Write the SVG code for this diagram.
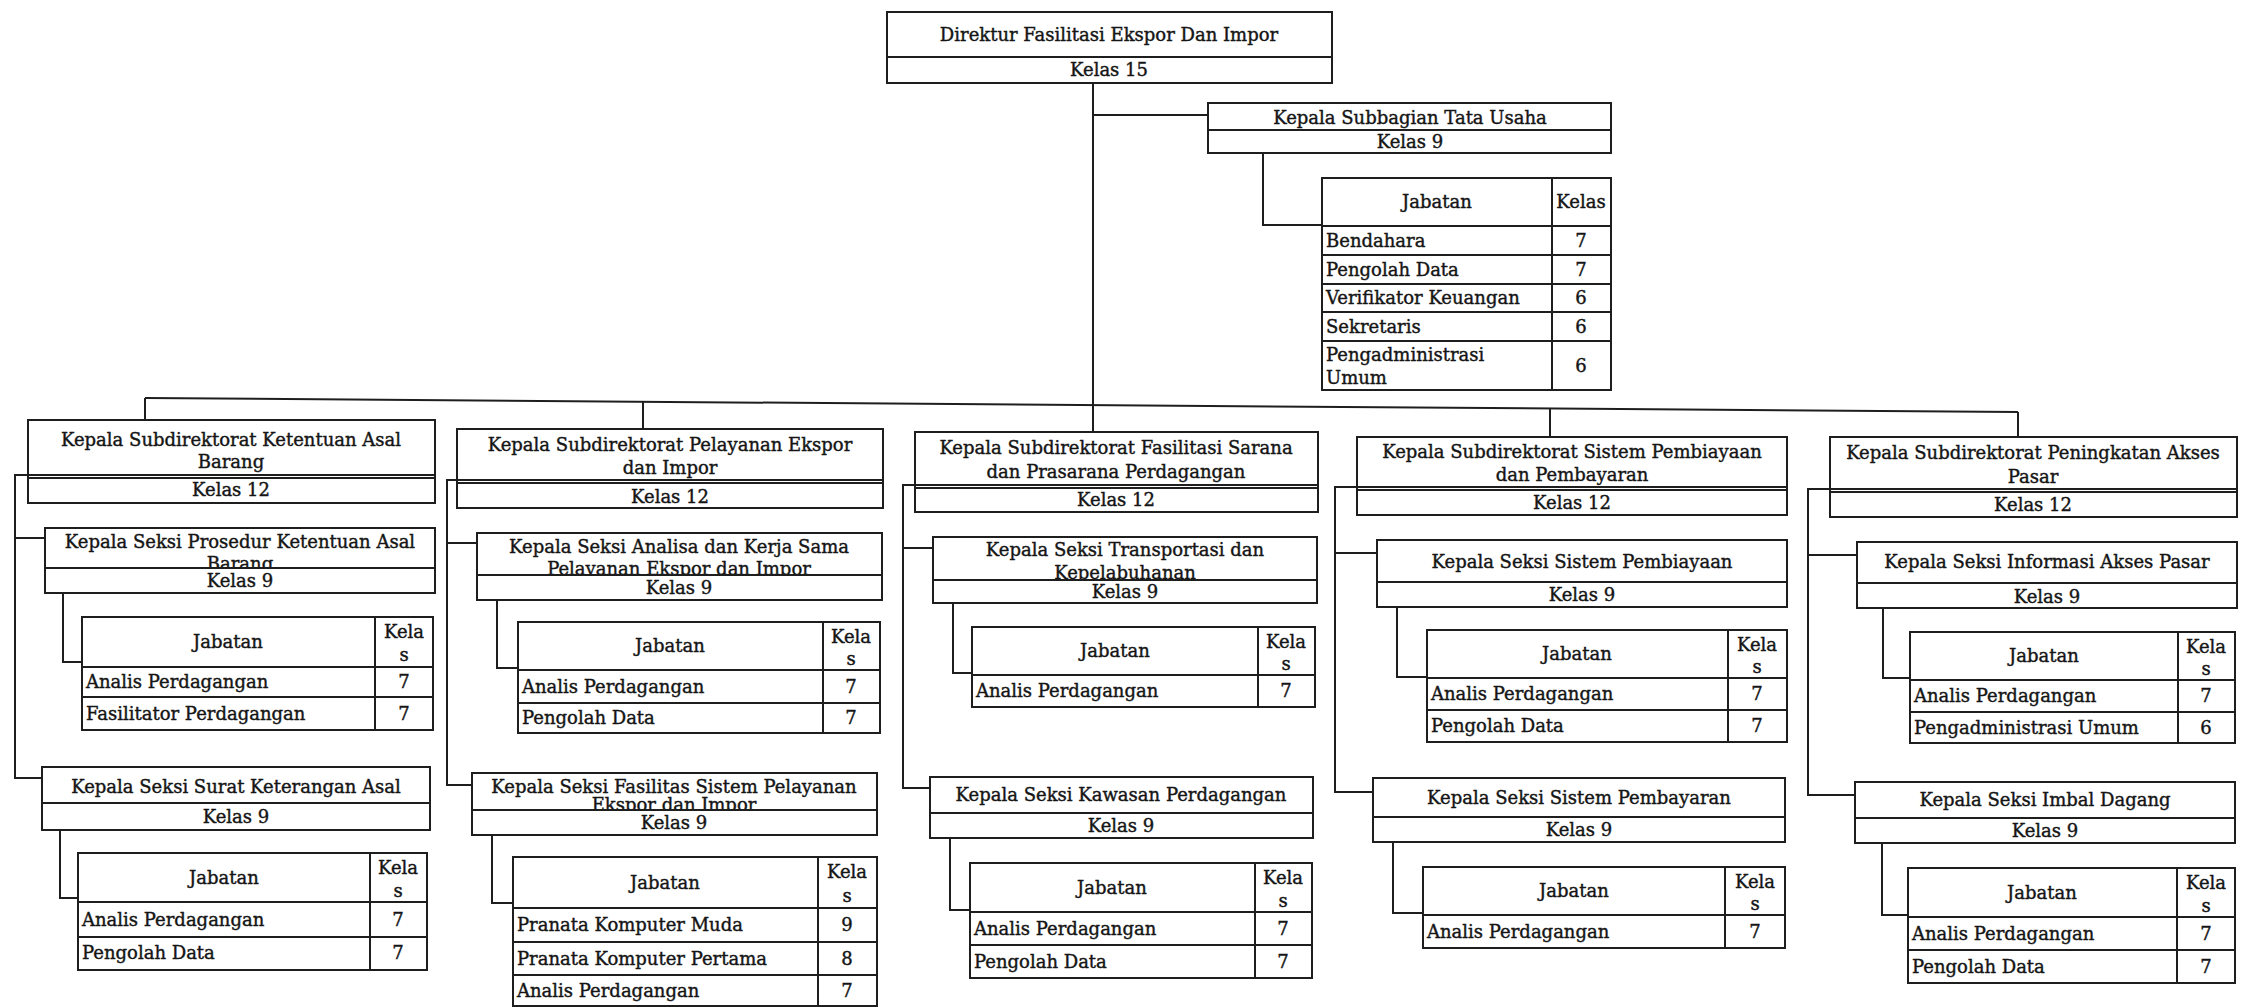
<svg xmlns="http://www.w3.org/2000/svg" width="2253" height="1007" viewBox="0 0 2253 1007">
<style>
.box{fill:#fff;stroke:#1e1e1e;stroke-width:2}
.ln{fill:none;stroke:#1e1e1e;stroke-width:2}
text{font-family:"DejaVu Serif","Liberation Serif",serif;font-size:18px;fill:#151515;stroke:#151515;stroke-width:0.4}
.c{text-anchor:middle}
</style>
<rect x="0" y="0" width="2253" height="1007" fill="#fff"/>

<g id="n-direktur">
<rect class="box" x="887" y="12" width="445" height="71"/>
<line class="ln" x1="887" y1="57" x2="1332" y2="57"/>
<text class="c" x="1109" y="41">Direktur Fasilitasi Ekspor Dan Impor</text>
<text class="c" x="1109" y="76">Kelas 15</text>
</g>

<g id="n-subbag">
<rect class="box" x="1208" y="103" width="403" height="50"/>
<line class="ln" x1="1208" y1="130" x2="1611" y2="130"/>
<text class="c" x="1410" y="124">Kepala Subbagian Tata Usaha</text>
<text class="c" x="1410" y="148">Kelas 9</text>
</g>

<g id="t-subbag">
<rect class="box" x="1322" y="178" width="289" height="212"/>
<path class="ln" d="M1322 226H1611M1322 255H1611M1322 284H1611M1322 312H1611M1322 341H1611M1552 178V390"/>
<text class="c" x="1437" y="208">Jabatan</text>
<text class="c" x="1581" y="208">Kelas</text>
<text x="1326" y="247">Bendahara</text><text class="c" x="1581" y="247">7</text>
<text x="1326" y="276">Pengolah Data</text><text class="c" x="1581" y="276">7</text>
<text x="1326" y="304">Verifikator Keuangan</text><text class="c" x="1581" y="304">6</text>
<text x="1326" y="333">Sekretaris</text><text class="c" x="1581" y="333">6</text>
<text x="1326" y="361">Pengadministrasi</text><text x="1326" y="384">Umum</text><text class="c" x="1581" y="372">6</text>
</g>

<!-- Subdirektorat boxes -->
<g id="n-subdit1">
<rect class="box" x="28" y="420" width="407" height="83"/>
<line class="ln" x1="28" y1="478" x2="435" y2="478"/>
<text class="c" x="231" y="446">Kepala Subdirektorat Ketentuan Asal</text>
<text class="c" x="231" y="468">Barang</text>
<text class="c" x="231" y="496">Kelas 12</text>
</g>
<g id="n-subdit2">
<rect class="box" x="457" y="429" width="426" height="79"/>
<line class="ln" x1="457" y1="483" x2="883" y2="483"/>
<text class="c" x="670" y="451">Kepala Subdirektorat Pelayanan Ekspor</text>
<text class="c" x="670" y="474">dan Impor</text>
<text class="c" x="670" y="503">Kelas 12</text>
</g>
<g id="n-subdit3">
<rect class="box" x="915" y="432" width="403" height="80"/>
<line class="ln" x1="915" y1="488" x2="1318" y2="488"/>
<text class="c" x="1116" y="454">Kepala Subdirektorat Fasilitasi Sarana</text>
<text class="c" x="1116" y="478">dan Prasarana Perdagangan</text>
<text class="c" x="1116" y="506">Kelas 12</text>
</g>
<g id="n-subdit4">
<rect class="box" x="1357" y="437" width="430" height="78"/>
<line class="ln" x1="1357" y1="490" x2="1787" y2="490"/>
<text class="c" x="1572" y="458">Kepala Subdirektorat Sistem Pembiayaan</text>
<text class="c" x="1572" y="481">dan Pembayaran</text>
<text class="c" x="1572" y="509">Kelas 12</text>
</g>
<g id="n-subdit5">
<rect class="box" x="1830" y="437" width="407" height="80"/>
<line class="ln" x1="1830" y1="492" x2="2237" y2="492"/>
<text class="c" x="2033" y="459">Kepala Subdirektorat Peningkatan Akses</text>
<text class="c" x="2033" y="483">Pasar</text>
<text class="c" x="2033" y="511">Kelas 12</text>
</g>

<!-- Seksi boxes -->
<g id="n-seksi1a">
<rect class="box" x="45" y="528" width="390" height="65"/>
<text class="c" x="240" y="548">Kepala Seksi Prosedur Ketentuan Asal</text>
<text class="c" x="240" y="570">Barang</text>
<rect class="box" x="45" y="568" width="390" height="25"/>
<text class="c" x="240" y="587">Kelas 9</text>
</g>
<g id="n-seksi1b">
<rect class="box" x="42" y="767" width="388" height="63"/>
<line class="ln" x1="42" y1="803" x2="430" y2="803"/>
<text class="c" x="236" y="793">Kepala Seksi Surat Keterangan Asal</text>
<text class="c" x="236" y="823">Kelas 9</text>
</g>
<g id="n-seksi2a">
<rect class="box" x="477" y="533" width="405" height="67"/>
<text class="c" x="679" y="553">Kepala Seksi Analisa dan Kerja Sama</text>
<text class="c" x="679" y="575">Pelayanan Ekspor dan Impor</text>
<rect class="box" x="477" y="575" width="405" height="25"/>
<text class="c" x="679" y="594">Kelas 9</text>
</g>
<g id="n-seksi2b">
<rect class="box" x="472" y="773" width="405" height="62"/>
<text class="c" x="674" y="793">Kepala Seksi Fasilitas Sistem Pelayanan</text>
<text class="c" x="674" y="811">Ekspor dan Impor</text>
<rect class="box" x="472" y="810" width="405" height="25"/>
<text class="c" x="674" y="829">Kelas 9</text>
</g>
<g id="n-seksi3a">
<rect class="box" x="933" y="537" width="384" height="66"/>
<text class="c" x="1125" y="556">Kepala Seksi Transportasi dan</text>
<text class="c" x="1125" y="579">Kepelabuhanan</text>
<rect class="box" x="933" y="580" width="384" height="23"/>
<text class="c" x="1125" y="598">Kelas 9</text>
</g>
<g id="n-seksi3b">
<rect class="box" x="930" y="777" width="383" height="61"/>
<line class="ln" x1="930" y1="813" x2="1313" y2="813"/>
<text class="c" x="1121" y="801">Kepala Seksi Kawasan Perdagangan</text>
<text class="c" x="1121" y="832">Kelas 9</text>
</g>
<g id="n-seksi4a">
<rect class="box" x="1377" y="540" width="410" height="67"/>
<line class="ln" x1="1377" y1="582" x2="1787" y2="582"/>
<text class="c" x="1582" y="568">Kepala Seksi Sistem Pembiayaan</text>
<text class="c" x="1582" y="601">Kelas 9</text>
</g>
<g id="n-seksi4b">
<rect class="box" x="1373" y="778" width="412" height="64"/>
<line class="ln" x1="1373" y1="817" x2="1785" y2="817"/>
<text class="c" x="1579" y="804">Kepala Seksi Sistem Pembayaran</text>
<text class="c" x="1579" y="836">Kelas 9</text>
</g>
<g id="n-seksi5a">
<rect class="box" x="1857" y="542" width="380" height="66"/>
<line class="ln" x1="1857" y1="583" x2="2237" y2="583"/>
<text class="c" x="2047" y="568">Kepala Seksi Informasi Akses Pasar</text>
<text class="c" x="2047" y="603">Kelas 9</text>
</g>
<g id="n-seksi5b">
<rect class="box" x="1855" y="782" width="380" height="61"/>
<line class="ln" x1="1855" y1="818" x2="2235" y2="818"/>
<text class="c" x="2045" y="806">Kepala Seksi Imbal Dagang</text>
<text class="c" x="2045" y="837">Kelas 9</text>
</g>

<!-- Jabatan tables -->
<g id="t-seksi1a">
<rect class="box" x="82" y="617" width="351" height="113"/>
<path class="ln" d="M82 667H433M82 697H433M375 617V730"/>
<text class="c" x="228" y="648">Jabatan</text>
<text class="c" x="404" y="638">Kela</text><text class="c" x="404" y="661">s</text>
<text x="86" y="688">Analis Perdagangan</text><text class="c" x="404" y="688">7</text>
<text x="86" y="720">Fasilitator Perdagangan</text><text class="c" x="404" y="720">7</text>
</g>
<g id="t-seksi1b">
<rect class="box" x="78" y="853" width="349" height="117"/>
<path class="ln" d="M78 902H427M78 937H427M370 853V970"/>
<text class="c" x="224" y="884">Jabatan</text>
<text class="c" x="398" y="874">Kela</text><text class="c" x="398" y="897">s</text>
<text x="82" y="926">Analis Perdagangan</text><text class="c" x="398" y="926">7</text>
<text x="82" y="959">Pengolah Data</text><text class="c" x="398" y="959">7</text>
</g>
<g id="t-seksi2a">
<rect class="box" x="518" y="622" width="362" height="111"/>
<path class="ln" d="M518 670H880M518 703H880M823 622V733"/>
<text class="c" x="670" y="652">Jabatan</text>
<text class="c" x="851" y="643">Kela</text><text class="c" x="851" y="665">s</text>
<text x="522" y="693">Analis Perdagangan</text><text class="c" x="851" y="693">7</text>
<text x="522" y="724">Pengolah Data</text><text class="c" x="851" y="724">7</text>
</g>
<g id="t-seksi2b">
<rect class="box" x="513" y="857" width="364" height="149"/>
<path class="ln" d="M513 908H877M513 942H877M513 975H877M818 857V1006"/>
<text class="c" x="665" y="889">Jabatan</text>
<text class="c" x="847" y="878">Kela</text><text class="c" x="847" y="902">s</text>
<text x="517" y="931">Pranata Komputer Muda</text><text class="c" x="847" y="931">9</text>
<text x="517" y="965">Pranata Komputer Pertama</text><text class="c" x="847" y="965">8</text>
<text x="517" y="997">Analis Perdagangan</text><text class="c" x="847" y="997">7</text>
</g>
<g id="t-seksi3a">
<rect class="box" x="972" y="627" width="343" height="80"/>
<path class="ln" d="M972 675H1315M1258 627V707"/>
<text class="c" x="1115" y="657">Jabatan</text>
<text class="c" x="1286" y="648">Kela</text><text class="c" x="1286" y="670">s</text>
<text x="976" y="697">Analis Perdagangan</text><text class="c" x="1286" y="697">7</text>
</g>
<g id="t-seksi3b">
<rect class="box" x="970" y="863" width="342" height="115"/>
<path class="ln" d="M970 912H1312M970 945H1312M1255 863V978"/>
<text class="c" x="1112" y="894">Jabatan</text>
<text class="c" x="1283" y="884">Kela</text><text class="c" x="1283" y="907">s</text>
<text x="974" y="935">Analis Perdagangan</text><text class="c" x="1283" y="935">7</text>
<text x="974" y="968">Pengolah Data</text><text class="c" x="1283" y="968">7</text>
</g>
<g id="t-seksi4a">
<rect class="box" x="1427" y="630" width="360" height="112"/>
<path class="ln" d="M1427 678H1787M1427 710H1787M1728 630V742"/>
<text class="c" x="1577" y="660">Jabatan</text>
<text class="c" x="1757" y="651">Kela</text><text class="c" x="1757" y="673">s</text>
<text x="1431" y="700">Analis Perdagangan</text><text class="c" x="1757" y="700">7</text>
<text x="1431" y="732">Pengolah Data</text><text class="c" x="1757" y="732">7</text>
</g>
<g id="t-seksi4b">
<rect class="box" x="1423" y="867" width="362" height="81"/>
<path class="ln" d="M1423 915H1785M1725 867V948"/>
<text class="c" x="1574" y="897">Jabatan</text>
<text class="c" x="1755" y="888">Kela</text><text class="c" x="1755" y="910">s</text>
<text x="1427" y="938">Analis Perdagangan</text><text class="c" x="1755" y="938">7</text>
</g>
<g id="t-seksi5a">
<rect class="box" x="1910" y="632" width="325" height="111"/>
<path class="ln" d="M1910 680H2235M1910 712H2235M2178 632V743"/>
<text class="c" x="2044" y="662">Jabatan</text>
<text class="c" x="2206" y="653">Kela</text><text class="c" x="2206" y="675">s</text>
<text x="1914" y="702">Analis Perdagangan</text><text class="c" x="2206" y="702">7</text>
<text x="1914" y="734">Pengadministrasi Umum</text><text class="c" x="2206" y="734">6</text>
</g>
<g id="t-seksi5b">
<rect class="box" x="1908" y="868" width="327" height="115"/>
<path class="ln" d="M1908 917H2235M1908 950H2235M2177 868V983"/>
<text class="c" x="2042" y="899">Jabatan</text>
<text class="c" x="2206" y="889">Kela</text><text class="c" x="2206" y="912">s</text>
<text x="1912" y="940">Analis Perdagangan</text><text class="c" x="2206" y="940">7</text>
<text x="1912" y="973">Pengolah Data</text><text class="c" x="2206" y="973">7</text>
</g>

<g id="connectors" class="ln">
<path d="M1093 83V432"/>
<path d="M1093 115H1208"/>
<path d="M1263 153V225H1322"/>
<path d="M145 398L2018 412"/>
<path d="M145 398V420"/>
<path d="M643 401.7V429"/>
<path d="M1550 408.5V437"/>
<path d="M2018 412V437"/>
<path d="M435 475H15V778H42M15 538H45"/>
<path d="M883 480H447V785H472M447 543H477"/>
<path d="M1318 485H903V788H930M903 548H933"/>
<path d="M1787 487H1335V792H1373M1335 553H1377"/>
<path d="M2237 489H1808V795H1855M1808 555H1857"/>
<path d="M63 593V662H82"/>
<path d="M60 830V898H78"/>
<path d="M497 600V668H518"/>
<path d="M492 835V903H513"/>
<path d="M953 603V673H972"/>
<path d="M950 838V910H970"/>
<path d="M1397 607V677H1427"/>
<path d="M1393 842V913H1423"/>
<path d="M1883 608V678H1910"/>
<path d="M1882 843V915H1908"/>
</g>
</svg>
